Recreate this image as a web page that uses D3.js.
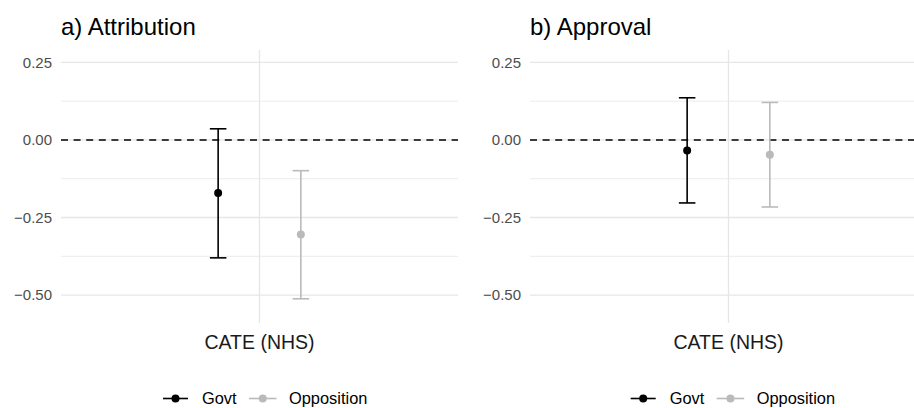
<!DOCTYPE html>
<html>
<head>
<meta charset="utf-8">
<script src="https://cdn.jsdelivr.net/npm/d3@7"></script>
<style>
  html, body { margin: 0; padding: 0; background: #ffffff; }
  svg { display: block; font-family: "Liberation Sans", Arial, Helvetica, sans-serif; }
</style>
</head>
<body>
<svg id="chart" width="914" height="408"></svg>
<script>
// Conditional average treatment effects with 95% intervals
const panels = ["a) Attribution", "b) Approval"];
const category = "CATE (NHS)";
const groups = ["Govt", "Opposition"];
const groupColors = ["#000000", "#bababa"];

// estimate, lower, upper per panel, ordered as in `groups`
const attributionEst = [-0.171, -0.305];
const attributionLow = [-0.380, -0.512];
const attributionHigh = [0.036, -0.099];

const approvalEst = [-0.034, -0.048];
const approvalLow = [-0.203, -0.216];
const approvalHigh = [0.136, 0.121];

const yTicks = [0.25, 0, -0.25, -0.5];
const yMinor = [0.125, -0.125, -0.375];
const yLimits = [-0.55, 0.25];

const panelData = [
  { title: panels[0], est: attributionEst, low: attributionLow, high: attributionHigh },
  { title: panels[1], est: approvalEst, low: approvalLow, high: approvalHigh }
];

const svg = d3.select("#chart");

// layout of each panel (plot area)
const panelBoxes = [
  { left: 61, right: 458, top: 50, bottom: 323 },
  { left: 530, right: 927, top: 50, bottom: 323 }
];

const dodge = 0.125;
const capHalf = 0.025;
const fmt = d3.format(".2f");

panelData.forEach((p, i) => {
  const box = panelBoxes[i];
  const g = svg.append("g");

  // ggplot-like expansion of the continuous limits
  const span = yLimits[1] - yLimits[0];
  const y = d3.scaleLinear()
    .domain([yLimits[0] - span * 0.05, yLimits[1] + span * 0.05])
    .range([box.bottom, box.top]);

  // single discrete category with default discrete expansion
  const x = d3.scaleLinear().domain([0.4, 1.6]).range([box.left, box.right]);

  // minor gridlines
  g.selectAll(".minor").data(yMinor).join("line")
    .attr("x1", box.left).attr("x2", box.right)
    .attr("y1", d => y(d)).attr("y2", d => y(d))
    .attr("stroke", "#ececec").attr("stroke-width", 1);

  // major gridlines
  g.selectAll(".major").data(yTicks).join("line")
    .attr("x1", box.left).attr("x2", box.right)
    .attr("y1", d => y(d)).attr("y2", d => y(d))
    .attr("stroke", "#e6e6e6").attr("stroke-width", 1.3);

  // vertical gridline at the category
  g.append("line")
    .attr("x1", x(1)).attr("x2", x(1))
    .attr("y1", box.top).attr("y2", box.bottom)
    .attr("stroke", "#e6e6e6").attr("stroke-width", 1.3);

  // reference line at zero
  g.append("line")
    .attr("x1", box.left).attr("x2", box.right)
    .attr("y1", y(0)).attr("y2", y(0))
    .attr("stroke", "#000").attr("stroke-width", 1.4)
    .attr("stroke-dasharray", "7,5.6");

  // y tick labels
  g.selectAll(".ytick").data(yTicks).join("text")
    .attr("x", box.left - 9)
    .attr("y", d => y(d))
    .attr("dy", "0.36em")
    .attr("text-anchor", "end")
    .attr("font-size", 15)
    .attr("fill", "#4d4d4d")
    .text(d => fmt(d).replace("-", "\u2212"));

  // x category label
  g.append("text")
    .attr("x", x(1)).attr("y", 349)
    .attr("text-anchor", "middle")
    .attr("font-size", 19.5)
    .attr("fill", "#1a1a1a")
    .text(category);

  // title
  g.append("text")
    .attr("x", box.left).attr("y", 35)
    .attr("font-size", 24)
    .attr("fill", "#000")
    .text(p.title);

  // error bars and points
  groups.forEach((grp, k) => {
    const cx = 1 + (k === 0 ? -dodge : dodge);
    const col = groupColors[k];
    g.append("line")
      .attr("x1", x(cx)).attr("x2", x(cx))
      .attr("y1", y(p.low[k])).attr("y2", y(p.high[k]))
      .attr("stroke", col).attr("stroke-width", 1.6);
    [p.low[k], p.high[k]].forEach(v => {
      g.append("line")
        .attr("x1", x(cx - capHalf)).attr("x2", x(cx + capHalf))
        .attr("y1", y(v)).attr("y2", y(v))
        .attr("stroke", col).attr("stroke-width", 1.6);
    });
    g.append("circle")
      .attr("cx", x(cx)).attr("cy", y(p.est[k]))
      .attr("r", 4).attr("fill", col);
  });

  // legend
  const legendX = [163, 249];
  const shift = i === 0 ? 0 : 467.7;
  const ly = 398.5;
  groups.forEach((grp, k) => {
    const lx = legendX[k] + shift;
    const keyW = k === 0 ? 25 : 27.5;
    g.append("line")
      .attr("x1", lx).attr("x2", lx + keyW)
      .attr("y1", ly).attr("y2", ly)
      .attr("stroke", groupColors[k]).attr("stroke-width", 1.6);
    g.append("circle")
      .attr("cx", lx + keyW / 2).attr("cy", ly)
      .attr("r", 4).attr("fill", groupColors[k]);
    g.append("text")
      .attr("x", lx + keyW + (k === 0 ? 14 : 12.5))
      .attr("y", ly).attr("dy", "0.34em")
      .attr("font-size", 16.4)
      .attr("fill", "#000")
      .text(grp);
  });
});
</script>
</body>
</html>
